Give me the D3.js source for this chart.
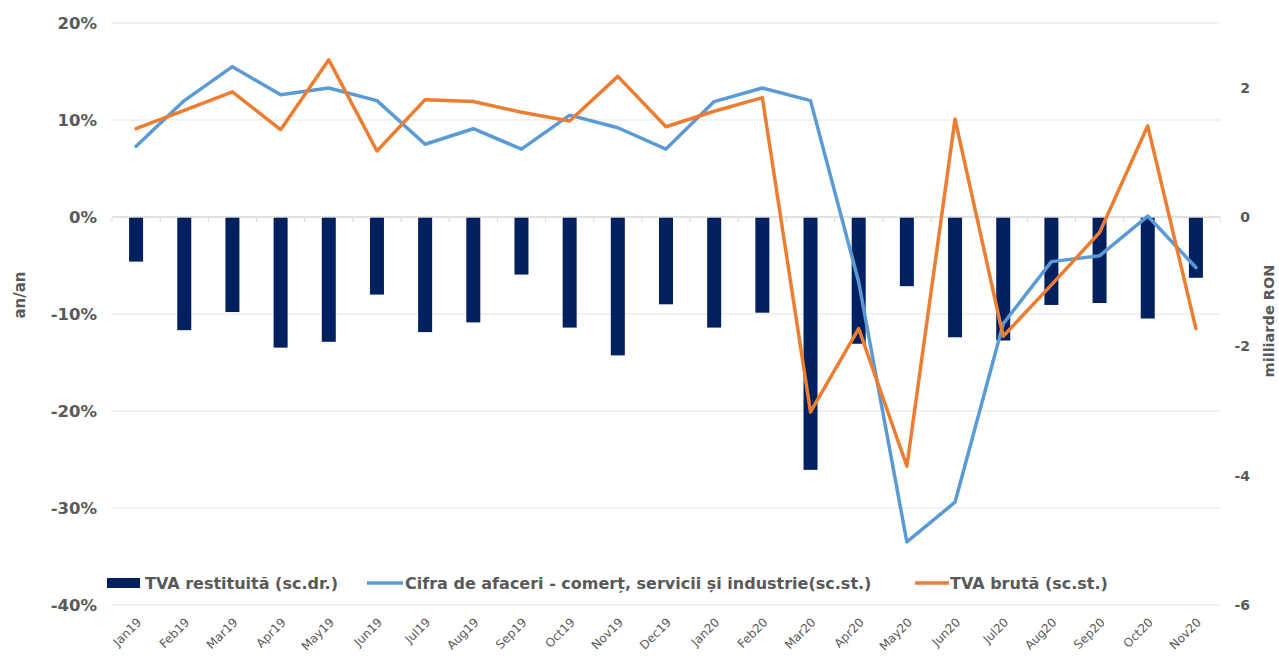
<!DOCTYPE html>
<html>
<head>
<meta charset="utf-8">
<script src="https://cdn.jsdelivr.net/npm/d3@7"></script>
<style>
html,body{margin:0;padding:0;background:#fff;}
text{font-family:"DejaVu Sans",Verdana,sans-serif;fill:#595959;}
</style>
</head>
<body>
<svg id="c" width="1279" height="664"></svg>
<script>
const months = ["Jan19","Feb19","Mar19","Apr19","May19","Jun19","Jul19","Aug19","Sep19","Oct19","Nov19","Dec19",
  "Jan20","Feb20","Mar20","Apr20","May20","Jun20","Jul20","Aug20","Sep20","Oct20","Nov20"];
// TVA restituită (milliarde RON, right axis)
const tvaRestituita = [-0.69,-1.75,-1.47,-2.02,-1.93,-1.20,-1.78,-1.63,-0.89,-1.71,-2.14,-1.35,
  -1.71,-1.48,-3.91,-1.96,-1.07,-1.86,-1.91,-1.36,-1.33,-1.57,-0.94];
// Cifra de afaceri (% an/an, left axis)
const cifraAfaceri = [7.3,12.0,15.5,12.6,13.3,12.0,7.5,9.1,7.0,10.5,9.2,7.0,
  11.9,13.3,12.0,-6.7,-33.5,-29.4,-11.0,-4.6,-4.0,0.1,-5.2];
// TVA brută (% an/an, left axis)
const tvaBruta = [9.1,11.0,12.9,9.0,16.2,6.8,12.1,11.9,10.8,9.9,14.5,9.3,
  10.9,12.3,-20.1,-11.5,-25.7,10.1,-12.3,-7.0,-1.6,9.4,-11.5];
const leftTicks = [-40,-30,-20,-10,0,10,20];
const rightTicks = [-6,-4,-2,0,2];
const legendLabels = ["TVA restituită (sc.dr.)","Cifra de afaceri - comerț, servicii și industrie(sc.st.)","TVA brută (sc.st.)"];

const colBar = "#002060", colBlue = "#5B9BD5", colOrange = "#ED7D31";
const svg = d3.select("#c");
const x0 = 112, x1 = 1220, yTop = 23, yBot = 605;
const x = d3.scaleBand().domain(months).range([x0, x1]).padding(0);
const cx = d => x(d) + x.bandwidth()/2;
const yL = d3.scaleLinear().domain([-40,20]).range([yBot,yTop]);
const yR = d3.scaleLinear().domain([-6,3]).range([yBot,yTop]);

// gridlines
svg.append("g").selectAll("line").data(leftTicks.filter(t=>t!==0)).join("line")
  .attr("x1",x0).attr("x2",x1).attr("y1",d=>yL(d)).attr("y2",d=>yL(d))
  .attr("stroke","#ededed").attr("stroke-width",1.3);

// left axis labels
const gl = svg.append("g").attr("transform",`translate(${x0},0)`)
  .call(d3.axisLeft(yL).tickValues(leftTicks).tickFormat(d=>d+"%").tickSize(0).tickPadding(15));
gl.select(".domain").remove();
gl.selectAll("text").style("font-size","16.5px").style("font-weight","bold").attr("fill","#595959");

// right axis labels (right-aligned)
const gr = svg.append("g").attr("transform",`translate(${x1},0)`)
  .call(d3.axisRight(yR).tickValues(rightTicks).tickFormat(d=>d).tickSize(0).tickPadding(30));
gr.select(".domain").remove();
gr.selectAll("text").attr("text-anchor","end").style("font-size","14px").style("font-weight","bold").attr("fill","#595959");

// bars
const bw = 14;
svg.append("g").selectAll("rect").data(months).join("rect")
  .attr("x",(d)=>cx(d)-bw/2).attr("width",bw)
  .attr("y",(d,i)=>Math.min(yR(0),yR(tvaRestituita[i])))
  .attr("height",(d,i)=>Math.abs(yR(tvaRestituita[i])-yR(0)))
  .attr("fill",colBar);

// zero axis line and ticks
const gz = svg.append("g").attr("transform",`translate(0,${yL(0)})`);
gz.append("line").attr("x1",x0).attr("x2",x1).attr("stroke","#d9d9d9").attr("stroke-width",1.3);
gz.selectAll(".tk").data(months.concat(["end"])).join("line")
  .attr("x1",(d,i)=>x0+i*x.step()).attr("x2",(d,i)=>x0+i*x.step())
  .attr("y1",0).attr("y2",5).attr("stroke","#d9d9d9");

// lines
const line = d3.line().x((d,i)=>cx(months[i])).y(d=>yL(d));
svg.append("path").datum(cifraAfaceri).attr("d",line).attr("fill","none")
  .attr("stroke",colBlue).attr("stroke-width",3.5).attr("stroke-linejoin","round").attr("stroke-linecap","round");
svg.append("path").datum(tvaBruta).attr("d",line).attr("fill","none")
  .attr("stroke",colOrange).attr("stroke-width",3.5).attr("stroke-linejoin","round").attr("stroke-linecap","round");

// x labels
svg.append("g").selectAll("text").data(months).join("text")
  .attr("transform",d=>`translate(${cx(d)+6},${623}) rotate(-45)`)
  .attr("text-anchor","end").style("font-size","12px").text(d=>d);

// axis titles
svg.append("text").attr("transform","translate(25,295) rotate(-90)").attr("text-anchor","middle")
  .style("font-size","15px").style("font-weight","bold").text("an/an");
svg.append("text").attr("transform","translate(1274,321) rotate(-90)").attr("text-anchor","middle")
  .style("font-size","14.5px").style("font-weight","bold").text("milliarde RON");

// legend
const lg = svg.append("g").attr("transform","translate(0,583)");
lg.append("rect").attr("x",107).attr("y",-5).attr("width",33).attr("height",10).attr("fill",colBar);
lg.append("text").attr("x",145).attr("y",6).style("font-size","16px").style("font-weight","bold").text(legendLabels[0]);
lg.append("line").attr("x1",367).attr("x2",403).attr("stroke",colBlue).attr("stroke-width",3.5);
lg.append("text").attr("x",405).attr("y",6).style("font-size","16px").style("font-weight","bold").text(legendLabels[1]);
lg.append("line").attr("x1",915).attr("x2",949).attr("stroke",colOrange).attr("stroke-width",3.5);
lg.append("text").attr("x",950).attr("y",6).style("font-size","16px").style("font-weight","bold").text(legendLabels[2]);
</script>
</body>
</html>
